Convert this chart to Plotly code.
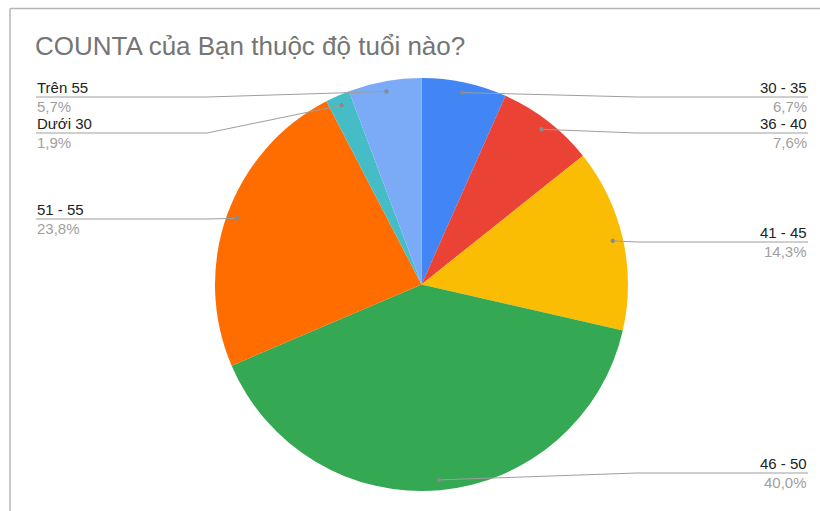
import math
import plotly.graph_objects as go

# ---- data ----
labels = ["30 - 35", "36 - 40", "41 - 45", "46 - 50", "51 - 55", "Dưới 30", "Trên 55"]
counts = [7, 8, 15, 42, 25, 2, 6]
colors = ["#4285F4", "#EA4335", "#FBBC04", "#34A853", "#FF6D01", "#46BDC6", "#7BAAF7"]
title_text = "COUNTA của Bạn thuộc độ tuổi nào?"

# ---- layout geometry (pixels) ----
W, H = 820, 511
cx, cy, R = 421.5, 284.5, 206.5
# label side and leader-line y (pixels) per slice
label_side = ["right", "right", "right", "right", "left", "left", "left"]
label_line_y = [97, 133, 242, 473, 219, 133, 97]
LEFT_X, RIGHT_X = 36, 808
LEFT_ELBOW, RIGHT_ELBOW = 207, 637


def px(x):
    return x / W


def py(y):
    return 1 - y / H


fig = go.Figure(go.Pie(
    labels=labels, values=counts, sort=False, direction="clockwise", rotation=0,
    marker=dict(colors=colors, line=dict(width=0)),
    textinfo="none", hoverinfo="label+percent", showlegend=False,
    domain=dict(x=[px(cx - R), px(cx + R)], y=[py(cy + R), py(cy - R)]),
))

total = sum(counts)
cum = 0
shapes = []
annotations = []
line_col = "#9e9e9e"
for i, v in enumerate(counts):
    mid = (cum + v / 2) / total * 2 * math.pi
    cum += v
    dx = cx + 0.95 * R * math.sin(mid)
    dy = cy - 0.95 * R * math.cos(mid)
    ly = label_line_y[i]
    pct = v / total * 100
    pct_txt = f"{pct:.1f}%".replace(".", ",")
    if label_side[i] == "right":
        ex, lx, anchor = RIGHT_ELBOW, RIGHT_X, "right"
    else:
        ex, lx, anchor = LEFT_ELBOW, LEFT_X, "left"
    path = f"M {px(lx)} {py(ly)} L {px(ex)} {py(ly)} L {px(dx)} {py(dy)}"
    shapes.append(dict(type="path", path=path, xref="paper", yref="paper",
                       line=dict(color=line_col, width=1)))
    shapes.append(dict(type="circle", xref="paper", yref="paper",
                       x0=px(dx - 2.2), x1=px(dx + 2.2), y0=py(dy + 2.2), y1=py(dy - 2.2),
                       fillcolor="#8a8a8a", line=dict(width=0)))
    annotations.append(dict(text=labels[i], x=px(lx), y=py(ly), xref="paper", yref="paper",
                            xanchor=anchor, yanchor="bottom", showarrow=False,
                            font=dict(family="Liberation Sans, Arial", size=15, color="#222222"),
                            borderpad=0))
    annotations.append(dict(text=pct_txt, x=px(lx), y=py(ly), xref="paper", yref="paper",
                            xanchor=anchor, yanchor="top", showarrow=False,
                            font=dict(family="Liberation Sans, Arial", size=15, color="#a0a0a0"),
                            borderpad=0))

# frame lines (top and left)
shapes.append(dict(type="line", xref="paper", yref="paper", x0=px(10), x1=1, y0=py(8.5), y1=py(8.5),
                   line=dict(color="#b5b5b5", width=1.5)))
shapes.append(dict(type="line", xref="paper", yref="paper", x0=px(10), x1=px(10), y0=py(8.5), y1=0,
                   line=dict(color="#b5b5b5", width=1.5)))

fig.update_layout(
    width=W, height=H, margin=dict(l=0, r=0, t=0, b=0),
    paper_bgcolor="white", plot_bgcolor="white",
    title=dict(text=title_text, x=px(35), xanchor="left", xref="paper",
               y=py(46), yanchor="middle", yref="paper",
               font=dict(family="Liberation Sans, Arial", size=26, color="#757575")),
    shapes=shapes, annotations=annotations,
)

fig.write_html("out.html")
